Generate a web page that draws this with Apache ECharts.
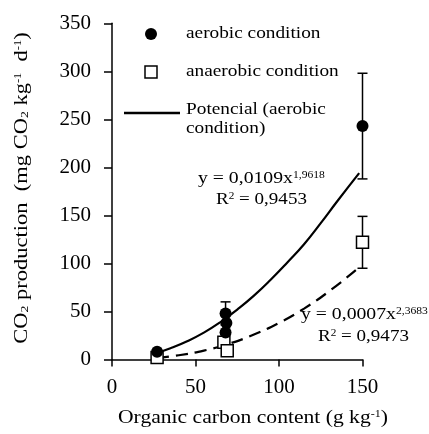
<!DOCTYPE html>
<html>
<head>
<meta charset="utf-8">
<script src="https://cdn.jsdelivr.net/npm/echarts@6/dist/echarts.min.js"></script>
<style>html,body{margin:0;padding:0;background:#fff;}#c{width:429px;height:434px;}</style>
</head>
<body>
<div id="c"></div>
<script>
// ---- data ----
const xTickValues = [0, 50, 100, 150];
const yTickValues = [0, 50, 100, 150, 200, 250, 300, 350];

const aerobicX   = [27, 68, 68.5, 68, 150];
const aerobicY   = [8, 48, 38, 28, 243];
const aerobicErr = [0, 12, 0, 0, 55];

const anaerobicX   = [27, 67, 69, 150];
const anaerobicY   = [2, 18, 9, 122];
const anaerobicErr = [0, 0, 0, 27];

// trend lines
const aeroFitX = [27, 35, 45, 55, 65, 75, 85, 95, 105, 115, 125, 135, 148];
const aeroFitY = [7, 11.7, 19, 28, 39, 52, 66.5, 83, 101, 120, 142, 165, 194];
const anaFitX  = [27, 40, 55, 70, 85, 100, 115, 130, 146];
const anaFitY  = [1.7, 4.4, 9.3, 16.4, 26, 38, 53, 71, 93];

const legendLabels = ['aerobic condition', 'anaerobic condition', 'Potencial (aerobic', 'condition)'];
const eq1 = ['y = 0,0109x', '1,9618', 'R', '2', ' = 0,9453'];
const eq2 = ['y = 0,0007x', '2,3683', 'R', '2', ' = 0,9473'];
const xTitle = ['Organic carbon content (g kg', '-1', ')'];

const FONT = '"Liberation Serif", "Times New Roman", serif';

function pairs(xs, ys) { return xs.map((x, i) => [x, ys[i]]); }
function errData(xs, ys, es) {
  const out = [];
  xs.forEach((x, i) => { if (es[i] > 0) out.push([x, ys[i] - es[i], ys[i] + es[i]]); });
  return out;
}

function errorRender(params, api) {
  const x = api.value(0);
  const lo = api.coord([x, api.value(1)]);
  const hi = api.coord([x, api.value(2)]);
  const w = 5;
  const st = { stroke: '#000', lineWidth: 1.5 };
  return {
    type: 'group',
    children: [
      { type: 'line', shape: { x1: lo[0], y1: lo[1], x2: hi[0], y2: hi[1] }, style: st },
      { type: 'line', shape: { x1: hi[0] - w, y1: hi[1], x2: hi[0] + w, y2: hi[1] }, style: st },
      { type: 'line', shape: { x1: lo[0] - w, y1: lo[1], x2: lo[0] + w, y2: lo[1] }, style: st }
    ]
  };
}

const chart = echarts.init(document.getElementById('c'), null, { renderer: 'canvas' });

const supRich = {
  sup: { fontSize: 10, fontFamily: FONT, verticalAlign: 'top', padding: [0, 0, 6, 0] },
  sub: { fontSize: 11, fontFamily: FONT, verticalAlign: 'bottom', padding: [6, 0, 0, 0] }
};

function txt(x, y, text, size, sx) {
  return {
    type: 'text', x: x, y: y, scaleX: sx, z: 100,
    style: { text: text, fontFamily: FONT, fontSize: size, fill: '#000', align: 'left', verticalAlign: 'middle', rich: supRich }
  };
}

const option = {
  animation: false,
  backgroundColor: '#fff',
  grid: { left: 112, top: 23.3, width: 250.5, height: 336.2 },
  xAxis: {
    type: 'value', min: 0, max: 150, interval: 50,
    axisLine: { show: true, lineStyle: { color: '#000', width: 1.5 } },
    axisTick: { show: true, length: 7, inside: false, lineStyle: { color: '#000', width: 1.5 } },
    splitLine: { show: false },
    axisLabel: { color: '#000', fontFamily: FONT, fontSize: 21, margin: 17,
      formatter: v => xTickValues.includes(v) ? String(v) : '' }
  },
  yAxis: {
    type: 'value', min: 0, max: 350, interval: 50,
    axisLine: { show: true, lineStyle: { color: '#000', width: 1.5 } },
    axisTick: { show: true, length: 8, inside: false, lineStyle: { color: '#000', width: 1.5 } },
    splitLine: { show: false },
    axisLabel: { color: '#000', fontFamily: FONT, fontSize: 21, margin: 21,
      formatter: v => yTickValues.includes(v) ? String(v) : '' }
  },
  series: [
    { type: 'custom', renderItem: errorRender, data: errData(aerobicX, aerobicY, aerobicErr), z: 2, silent: true },
    { type: 'custom', renderItem: errorRender, data: errData(anaerobicX, anaerobicY, anaerobicErr), z: 2, silent: true },
    { type: 'line', data: pairs(aeroFitX, aeroFitY), smooth: true, showSymbol: false,
      lineStyle: { color: '#000', width: 2.2 }, z: 3 },
    { type: 'line', data: pairs(anaFitX, anaFitY), smooth: true, showSymbol: false,
      lineStyle: { color: '#000', width: 2.2, type: [12, 7] }, z: 3 },
    { type: 'scatter', data: pairs(anaerobicX, anaerobicY), symbol: 'rect', symbolSize: 12,
      itemStyle: { color: '#fff', borderColor: '#000', borderWidth: 1.5, opacity: 1 }, z: 4 },
    { type: 'scatter', data: pairs(aerobicX, aerobicY), symbol: 'circle', symbolSize: 12,
      itemStyle: { color: '#000', opacity: 1 }, z: 5 }
  ],
  graphic: [
    // legend
    { type: 'circle', shape: { cx: 151, cy: 34, r: 6 }, style: { fill: '#000' }, z: 100 },
    { type: 'rect', shape: { x: 145, y: 66, width: 12, height: 12 }, style: { fill: '#fff', stroke: '#000', lineWidth: 1.5 }, z: 100 },
    { type: 'line', shape: { x1: 124, y1: 113, x2: 180, y2: 113 }, style: { stroke: '#000', lineWidth: 2.5 }, z: 100 },
    txt(186, 34, legendLabels[0], 17, 1.135),
    txt(186, 72, legendLabels[1], 17, 1.135),
    txt(186, 110, legendLabels[2], 17, 1.135),
    txt(186, 129, legendLabels[3], 17, 1.135),
    // equations
    txt(198, 179, eq1[0] + '{sup|' + eq1[1] + '}', 17, 1.16),
    txt(216, 200, eq1[2] + '{sup|' + eq1[3] + '}' + eq1[4], 17, 1.12),
    txt(301, 315, eq2[0] + '{sup|' + eq2[1] + '}', 17, 1.16),
    txt(318, 337, eq2[2] + '{sup|' + eq2[3] + '}' + eq2[4], 17, 1.12),
    // axis titles
    txt(118, 418, xTitle[0] + '{sup|' + xTitle[1] + '}' + xTitle[2], 18, 1.2),
    {
      type: 'text', x: 22, y: 188, rotation: Math.PI / 2, scaleX: 1.25, z: 100,
      style: {
        text: 'CO{sub|2} production  (mg CO{sub|2} kg{sup|-1}  d{sup|-1})',
        fontFamily: FONT, fontSize: 18, fill: '#000', align: 'center', verticalAlign: 'middle', rich: supRich
      }
    }
  ]
};
chart.setOption(option);
</script>
</body>
</html>
